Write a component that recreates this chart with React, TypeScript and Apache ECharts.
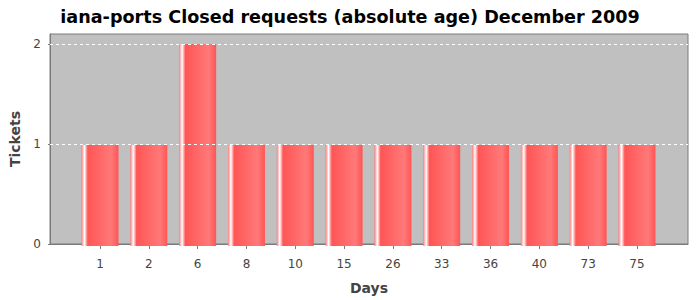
import React, { useEffect, useRef } from "react";
import * as echarts from "echarts";

const categories = ["1", "2", "6", "8", "10", "15", "26", "33", "36", "40", "73", "75"];
const tickets = [1, 1, 2, 1, 1, 1, 1, 1, 1, 1, 1, 1];
const yTicks = [0, 1, 2];
const gridLines = [1, 2];

const TITLE = "iana-ports Closed requests (absolute age) December 2009";

export default function App() {
  const ref = useRef<HTMLDivElement>(null);
  useEffect(() => {
    if (!ref.current) return;
    const chart = echarts.init(ref.current, undefined, { renderer: "svg" });
    const barGradient = new echarts.graphic.LinearGradient(0, 0, 1, 0, [
      { offset: 0, color: "#ff7979" },
      { offset: 0.08, color: "#ffffff" },
      { offset: 0.17, color: "#ff5555" },
      { offset: 0.8, color: "#ff7979" },
      { offset: 1, color: "#ff5555" },
    ]);
    const font = "DejaVu Sans";
    chart.setOption({
      animation: false,
      title: {
        text: TITLE,
        left: "center",
        top: 3,
        textStyle: { fontFamily: font, fontWeight: "bold", fontSize: 17.6, color: "#000" },
      },
      grid: [
        {
          left: 49, right: 12, top: 34, bottom: 54,
          show: true, backgroundColor: "#c0c0c0", borderColor: "#7a7a7a", borderWidth: 1,
        },
        { left: 75.6, right: 38.6, top: 34, bottom: 54 },
      ],
      xAxis: [
        {
          gridIndex: 0, type: "value", min: 0, max: 1, offset: 4,
          axisLine: { show: true, lineStyle: { color: "#7a7a7a" } },
          axisTick: { show: false }, axisLabel: { show: false }, splitLine: { show: false },
          name: "Days", nameLocation: "middle", nameGap: 33,
          nameTextStyle: { fontFamily: font, fontWeight: "bold", fontSize: 14, color: "#444" },
        },
        {
          gridIndex: 1, type: "category", data: categories, offset: 4,
          axisLine: { show: false },
          axisTick: { show: true, alignWithLabel: true, length: 3, lineStyle: { color: "#7a7a7a" } },
          axisLabel: { fontFamily: font, fontSize: 12, color: "#444", margin: 8 },
        },
      ],
      yAxis: [
        {
          gridIndex: 0, type: "value", min: 0, max: 2.1, offset: 4,
          axisLine: { show: true, lineStyle: { color: "#7a7a7a" } },
          axisTick: { show: true, length: 2, customValues: yTicks, lineStyle: { color: "#7a7a7a" } },
          axisLabel: { fontFamily: font, fontSize: 12, color: "#444", margin: 5, customValues: yTicks },
          splitLine: { show: false },
          name: "Tickets", nameLocation: "middle", nameGap: 24,
          nameTextStyle: { fontFamily: font, fontWeight: "bold", fontSize: 14, color: "#444" },
        },
        { gridIndex: 1, type: "value", min: 0, max: 2.1, show: false },
      ],
      series: [
        {
          type: "line", xAxisIndex: 0, yAxisIndex: 0, data: [], z: 1, silent: true,
          markLine: {
            silent: true, symbol: "none", label: { show: false },
            lineStyle: { color: "#ffffff", type: [3, 3], width: 1 },
            data: gridLines.map((v) => ({ yAxis: v })),
          },
        },
        {
          type: "bar", xAxisIndex: 1, yAxisIndex: 1, data: tickets, barWidth: 37, z: 3,
          itemStyle: { color: barGradient },
        },
      ],
    });
    return () => chart.dispose();
  }, []);
  return <div ref={ref} style={{ width: 700, height: 300, position: "absolute", left: 0, top: 0 }} />;
}
